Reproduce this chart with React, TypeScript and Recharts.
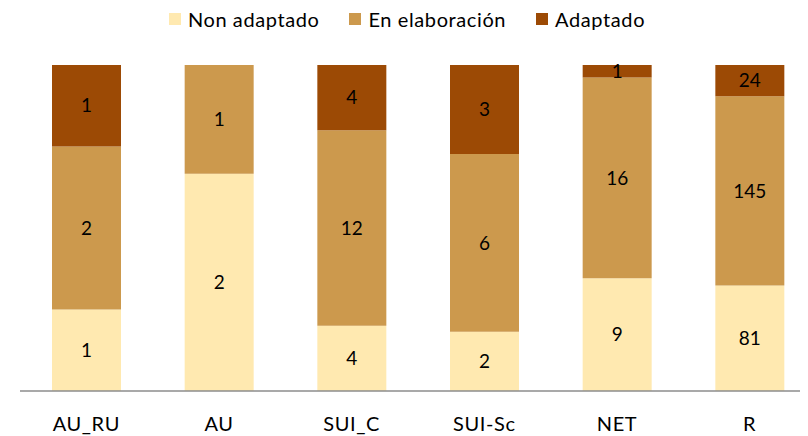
import React from 'react';
import { BarChart, Bar, XAxis, YAxis, Legend, LabelList } from 'recharts';

const categories = ['AU_RU', 'AU', 'SUI_C', 'SUI-Sc', 'NET', 'R'];
const nonAdaptado = [1, 2, 4, 2, 9, 81];
const enElaboracion = [2, 1, 12, 6, 16, 145];
const adaptado = [1, 0, 4, 3, 1, 24];

const seriesNames = ['Non adaptado', 'En elaboración', 'Adaptado'];
const colors = ['#FFE9B0', '#CC994D', '#9C4A05'];

const data = categories.map((c, i) => ({
  name: c,
  non: nonAdaptado[i],
  ela: enElaboracion[i],
  ada: adaptado[i],
}));

const FONT = 'Lato, "Open Sans", sans-serif';

const fmt = (v: any) => (v ? String(v) : '');

const LegendContent = () => (
  <div style={{ display: 'flex', justifyContent: 'center', fontFamily: FONT, fontSize: 20, lineHeight: '22px', color: '#000', marginLeft: -10 }}>
    {seriesNames.map((n, i) => (
      <div key={n} style={{ display: 'flex', alignItems: 'center', marginRight: i < 2 ? 30 : 0 }}>
        <span style={{ width: 12, height: 12, background: colors[i], display: 'inline-block', marginRight: 7 }} />
        <span style={{ letterSpacing: 0.6 }}>{n}</span>
      </div>
    ))}
  </div>
);

export default function App() {
  return (
    <div style={{ width: 800, height: 428, overflow: 'hidden' }}>
      <BarChart
        width={808}
        height={428}
        data={data}
        stackOffset="expand"
        margin={{ top: 35, right: 0, bottom: 0, left: 12 }}
      >
        <Legend verticalAlign="top" align="center" content={LegendContent} wrapperStyle={{ top: 0, left: 0, width: 808 }} />
        <YAxis hide domain={[0, 1]} />
        <XAxis
          dataKey="name"
          height={45}
          tickLine={false}
          tickSize={6}
          tickMargin={20}
          axisLine={{ stroke: '#8c8c8c', strokeWidth: 1.5 }}
          tick={{ fill: '#000', fontSize: 20, fontFamily: FONT, letterSpacing: 0.6 }}
          interval={0}
        />
        <Bar dataKey="non" stackId="a" fill={colors[0]} barSize={69} isAnimationActive={false}>
          <LabelList dataKey="non" position="center" formatter={fmt} style={{ fill: '#000', fontSize: 19, fontFamily: FONT }} />
        </Bar>
        <Bar dataKey="ela" stackId="a" fill={colors[1]} barSize={69} isAnimationActive={false}>
          <LabelList dataKey="ela" position="center" formatter={fmt} style={{ fill: '#000', fontSize: 19, fontFamily: FONT }} />
        </Bar>
        <Bar dataKey="ada" stackId="a" fill={colors[2]} barSize={69} isAnimationActive={false}>
          <LabelList dataKey="ada" position="center" formatter={fmt} style={{ fill: '#000', fontSize: 19, fontFamily: FONT }} />
        </Bar>
      </BarChart>
    </div>
  );
}
